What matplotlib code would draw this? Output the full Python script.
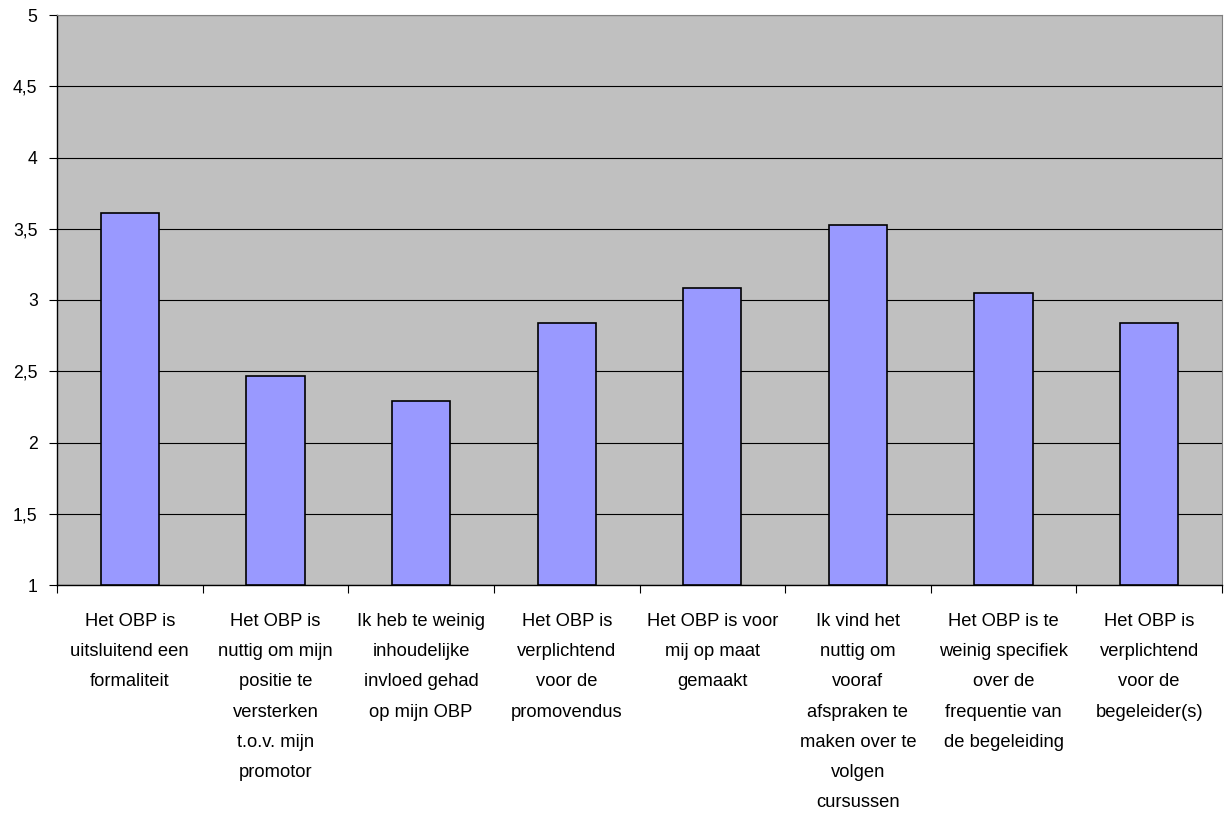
import matplotlib.pyplot as plt
import numpy as np

plt.rcParams['font.family'] = ['Liberation Sans', 'DejaVu Sans']

categories = [
    "Het OBP is\nuitsluitend een\nformaliteit",
    "Het OBP is\nnuttig om mijn\npositie te\nversterken\nt.o.v. mijn\npromotor",
    "Ik heb te weinig\ninhoudelijke\ninvloed gehad\nop mijn OBP",
    "Het OBP is\nverplichtend\nvoor de\npromovendus",
    "Het OBP is voor\nmij op maat\ngemaakt",
    "Ik vind het\nnuttig om\nvooraf\nafspraken te\nmaken over te\nvolgen\ncursussen",
    "Het OBP is te\nweinig specifiek\nover de\nfrequentie van\nde begeleiding",
    "Het OBP is\nverplichtend\nvoor de\nbegeleider(s)",
]
scores = [3.61, 2.465, 2.29, 2.837, 3.085, 3.528, 3.049, 2.837]
y_ticks = [1, 1.5, 2, 2.5, 3, 3.5, 4, 4.5, 5]
y_labels = ["1", "1,5", "2", "2,5", "3", "3,5", "4", "4,5", "5"]

fig = plt.figure(figsize=(12.24, 8.14), dpi=100)
ax = fig.add_axes([57 / 1224, 1 - 585 / 814, (1222 - 57) / 1224, (585 - 15) / 814])
ax.set_facecolor('#C0C0C0')

x = np.arange(len(categories))
ax.bar(x, np.array(scores) - 1, bottom=1, width=0.4, color='#9999FF',
       edgecolor='black', linewidth=1.2, zorder=3)

ax.set_xlim(-0.5, len(categories) - 0.5)
ax.set_ylim(1, 5)

# horizontal gridlines
ax.set_yticks(y_ticks)
ax.set_yticklabels(y_labels, fontsize=12.7)
ax.yaxis.grid(True, color='black', linewidth=0.8, zorder=1)
ax.set_axisbelow(True)
ax.tick_params(axis='y', direction='out', length=6, width=0.8, pad=8)

# category labels centred, tick marks on the boundaries
ax.set_xticks(x)
ax.set_xticklabels(categories, fontsize=13.2, linespacing=2.02, va='top')
ax.tick_params(axis='x', which='major', length=0, pad=20)
ax.set_xticks(np.arange(len(categories) + 1) - 0.5, minor=True)
ax.tick_params(axis='x', which='minor', direction='out', length=6, width=0.8)

for side in ['left', 'bottom']:
    ax.spines[side].set_color('black')
    ax.spines[side].set_linewidth(1.0)
ax.spines['top'].set_color('#808080')
ax.spines['right'].set_color('#808080')
ax.spines['top'].set_linewidth(0.8)
ax.spines['right'].set_linewidth(0.8)

fig.savefig('out.png', dpi=100, facecolor='white')
